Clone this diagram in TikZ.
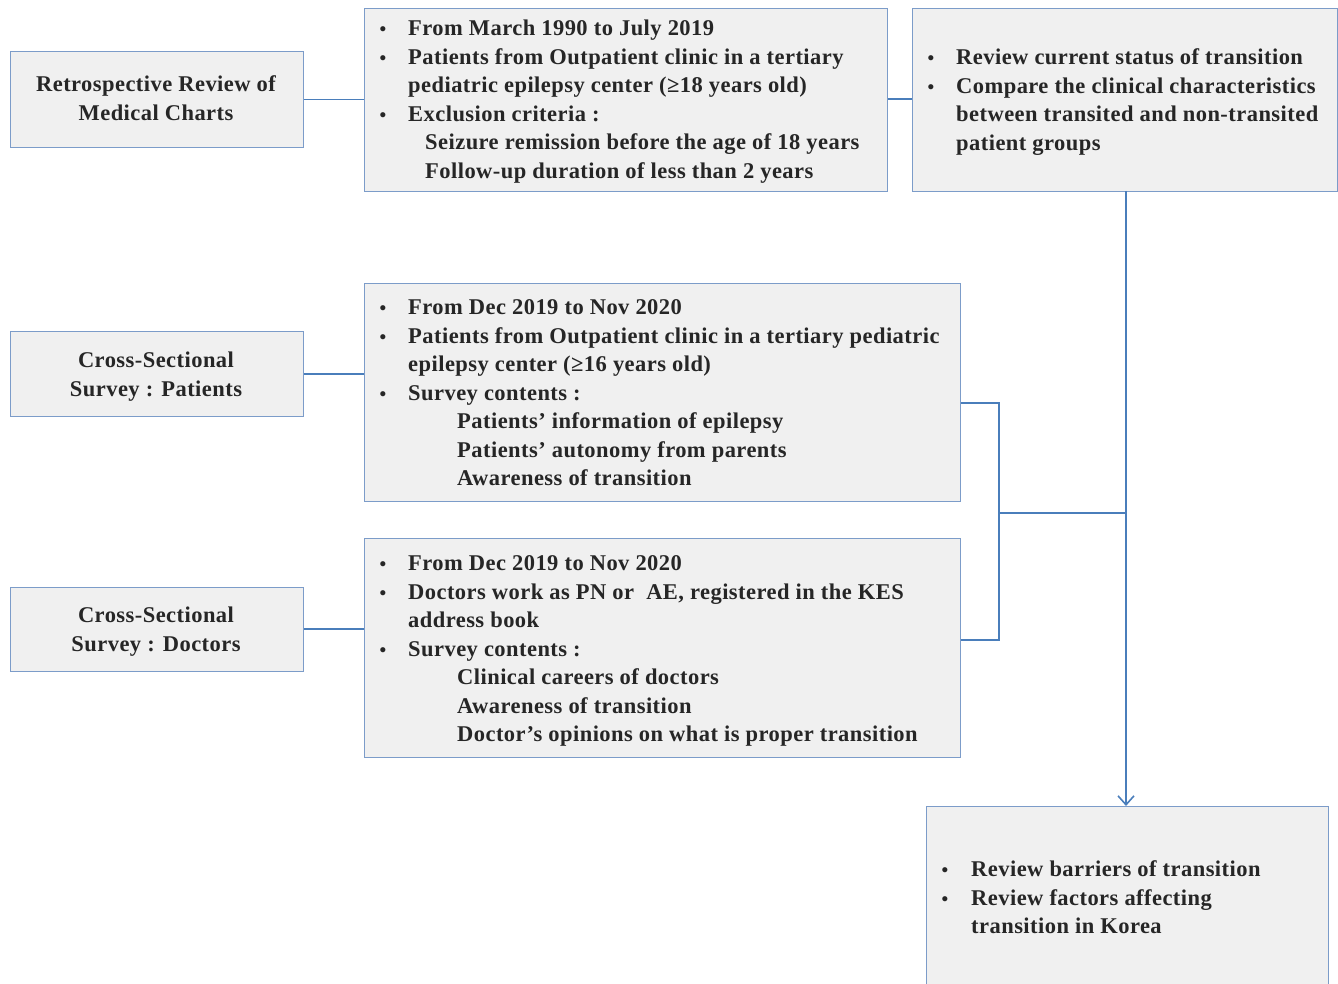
\documentclass[tikz,border=0pt]{standalone}
\usepackage{fontspec}
\setmainfont{Liberation Serif}[LetterSpace=2]
\usetikzlibrary{arrows.meta,calc}
\definecolor{boxfill}{HTML}{F0F0F0}
\definecolor{boxline}{HTML}{7C9CC9}
\definecolor{conn}{HTML}{4A7EBB}
\definecolor{txt}{HTML}{262626}
\newcounter{tln}
\newcommand\tline[3]{\stepcounter{tln}\node[tl] (t\arabic{tln}) at (#1,#2) {#3};}
\newcommand\cenline[3]{\stepcounter{tln}\node[tc] (t\arabic{tln}) at (#1,#2) {#3};}
\newcommand\bline[4]{\stepcounter{tln}\node[tb] (b\arabic{tln}) at (#1,#3) {\textbullet};\node[tl] (t\arabic{tln}) at (#2,#3) {#4};}
\begin{document}
\begin{tikzpicture}[x=1pt,y=-1pt,
  box/.style={draw=boxline, fill=boxfill, line width=1pt, inner sep=0pt, anchor=north west},
  tl/.style={anchor=base west, inner sep=0pt, text=txt, font=\bfseries\fontsize{22.5}{26}\selectfont},
  tc/.style={anchor=base, inner sep=0pt, text=txt, font=\bfseries\fontsize{22.5}{26}\selectfont},
  tb/.style={anchor=base, inner sep=0pt, text=txt, font=\bfseries\fontsize{19}{22}\selectfont},
  conn/.style={draw=conn, line width=1.6pt}]
\useasboundingbox (0,0) rectangle (1338,984);
\clip (0,0) rectangle (1338,984);
\fill[white] (0,0) rectangle (1338,984);
% boxes
\node[box, minimum width=293pt, minimum height=96pt] (A) at (10,51) {};
\node[box, minimum width=523pt, minimum height=183pt] (B) at (364,8) {};
\node[box, minimum width=425pt, minimum height=183pt] (C) at (912,8) {};
\node[box, minimum width=293pt, minimum height=85pt] (D) at (10,331) {};
\node[box, minimum width=596pt, minimum height=218pt] (E) at (364,283) {};
\node[box, minimum width=293pt, minimum height=84pt] (F) at (10,587) {};
\node[box, minimum width=596pt, minimum height=219pt] (G) at (364,538) {};
\node[box, minimum width=402pt, minimum height=220pt] (H) at (926,806) {};
% texts
\cenline{156}{92}{Retrospective Review of}
\cenline{156}{121}{Medical Charts}
\bline{383}{408}{36}{From March 1990 to July 2019}
\bline{383}{408}{65}{Patients from Outpatient clinic in a tertiary}
\tline{408}{93}{pediatric epilepsy center (≥18 years old)}
\bline{383}{408}{122}{Exclusion criteria :}
\tline{425}{150}{Seizure remission before the age of 18 years}
\tline{425}{179}{Follow-up duration of less than 2 years}
\bline{931}{956}{65}{Review current status of transition}
\bline{931}{956}{94}{Compare the clinical characteristics}
\tline{956}{122}{between transited and non-transited}
\tline{956}{151}{patient groups}
\cenline{156}{367}{Cross-Sectional}
\cenline{156}{396}{Survey : Patients}
\bline{383}{408}{314}{From Dec 2019 to Nov 2020}
\bline{383}{408}{343}{Patients from Outpatient clinic in a tertiary pediatric}
\tline{408}{371}{epilepsy center (≥16 years old)}
\bline{383}{408}{400}{Survey contents :}
\tline{457}{428}{Patients’ information of epilepsy}
\tline{457}{457}{Patients’ autonomy from parents}
\tline{457}{485}{Awareness of transition}
\cenline{156}{622}{Cross-Sectional}
\cenline{156}{651}{Survey : Doctors}
\bline{383}{408}{570}{From Dec 2019 to Nov 2020}
\bline{383}{408}{599}{Doctors work as PN or \ AE, registered in the KES}
\tline{408}{627}{address book}
\bline{383}{408}{656}{Survey contents :}
\tline{457}{684}{Clinical careers of doctors}
\tline{457}{713}{Awareness of transition}
\tline{457}{741}{Doctor’s opinions on what is proper transition}
\bline{945}{971}{876}{Review barriers of transition}
\bline{945}{971}{905}{Review factors affecting}
\tline{971}{933}{transition in Korea}
% connectors
\draw[conn] (A.east) -- (A.east -| B.west);
\coordinate (be) at (B.east |- 0,99);
\draw[conn] (be) -- (be -| C.west);
\coordinate (dd) at (D.east |- 0,374);
\draw[conn] (dd) -- (dd -| E.west);
\coordinate (ff) at (F.east |- 0,629);
\draw[conn] (ff) -- (ff -| G.west);
\coordinate (eo) at ($(E.north east)+(0,120)$);
\coordinate (go) at ($(G.north east)+(0,102)$);
\coordinate (bx) at (999,513);
\draw[conn] (eo) -| (bx) |- (go);
\coordinate (cs) at (1126,191);
\draw[conn] (bx) -- (bx -| cs);
\draw[conn, -{Straight Barb[length=9pt,width=16pt,line width=1.6pt]}] (cs) -- (cs |- H.north);
\end{tikzpicture}
\end{document}
